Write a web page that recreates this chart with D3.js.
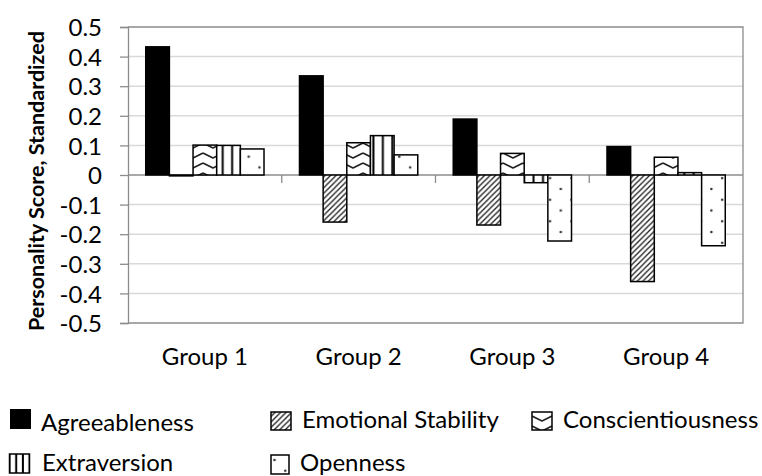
<!DOCTYPE html>
<html><head><meta charset="utf-8">
<script src="https://cdn.jsdelivr.net/npm/d3@7"></script>
<style>body{margin:0;background:#fff} svg{display:block}</style>
</head><body><svg id="c" width="762" height="476"></svg>
<script>
// ---- data ----
const categories = ["Group 1", "Group 2", "Group 3", "Group 4"];
const seriesNames = ["Agreeableness", "Emotional Stability", "Conscientiousness", "Extraversion", "Openness"];
const agreeableness      = [0.433, 0.335, 0.189, 0.096];
const emotionalStability = [-0.003, -0.159, -0.169, -0.360];
const conscientiousness  = [0.101, 0.109, 0.073, 0.060];
const extraversion       = [0.100, 0.133, -0.026, 0.008];
const openness           = [0.088, 0.068, -0.223, -0.239];
const yTickValues = [0.5, 0.4, 0.3, 0.2, 0.1, 0, -0.1, -0.2, -0.3, -0.4, -0.5];
const yTickLabels = ["0.5", "0.4", "0.3", "0.2", "0.1", "0", "-0.1", "-0.2", "-0.3", "-0.4", "-0.5"];
const yTitle = "Personality Score, Standardized";

const seriesValues = [agreeableness, emotionalStability, conscientiousness, extraversion, openness];
const patternIds = ["solid", "pEmo", "pCon", "pExt", "pOpen"];

// ---- layout ----
const svg = d3.select("#c");
const FONT = "Lato, 'Open Sans', sans-serif";
const plotL = 128, plotR = 743, plotT = 27, plotB = 323;

const x0 = d3.scaleBand().domain(categories).range([plotL, plotR]).paddingInner(0).paddingOuter(0);
const x1 = d3.scaleBand().domain(seriesNames).range([0, x0.bandwidth()]).paddingInner(0).paddingOuter(0.75);
const y = d3.scaleLinear().domain([-0.5, 0.5]).range([plotB, plotT]);

// ---- patterns ----
const defs = svg.append("defs");
function makePatterns(suffix, o) {
  let p = defs.append("pattern").attr("id", "pEmo" + suffix).attr("patternUnits", "userSpaceOnUse")
    .attr("width", 5.5).attr("height", 5.5);
  p.append("rect").attr("width", 5.5).attr("height", 5.5).attr("fill", "#fff");
  p.append("path").attr("d", "M0,5.5 L5.5,0 M-1,1 L1,-1 M4.5,6.5 L6.5,4.5")
    .attr("stroke", "#222").attr("stroke-width", 1.3);

  p = defs.append("pattern").attr("id", "pCon" + suffix).attr("patternUnits", "userSpaceOnUse")
    .attr("width", o.conW).attr("height", 10).attr("patternTransform", `translate(${o.conTx},${o.conTy})`);
  p.append("rect").attr("width", o.conW).attr("height", 10).attr("fill", "#fff");
  p.append("path").attr("d", `M0,3 L${o.conW / 2},8 L${o.conW},3`)
    .attr("fill", "none").attr("stroke", "#222").attr("stroke-width", 1.6).attr("stroke-linejoin", "round");

  p = defs.append("pattern").attr("id", "pExt" + suffix).attr("patternUnits", "userSpaceOnUse")
    .attr("width", o.extP).attr("height", 10);
  p.append("rect").attr("width", o.extP).attr("height", 10).attr("fill", "#fff");
  p.append("line").attr("x1", o.extOff).attr("x2", o.extOff).attr("y1", 0).attr("y2", 10)
    .attr("stroke", "#000").attr("stroke-width", 2);

  p = defs.append("pattern").attr("id", "pOpen" + suffix).attr("patternUnits", "userSpaceOnUse")
    .attr("width", 21.52).attr("height", 21.54).attr("patternTransform", `translate(${o.openTx},${o.openTy})`);
  p.append("rect").attr("width", 21.52).attr("height", 21.54).attr("fill", "#fff");
  p.append("circle").attr("cx", 11.98).attr("cy", 5.92).attr("r", 1.3).attr("fill", "#333");
  p.append("circle").attr("cx", 1.22).attr("cy", 16.69).attr("r", 1.3).attr("fill", "#333");
}
makePatterns("", { conW: 20, conTx: 3, conTy: 0, extP: 9.42, extOff: 6.05, openTx: 0, openTy: 0 });
makePatterns("L", { conW: 20, conTx: 532, conTy: 413, extP: 6.7, extOff: 2.8, openTx: 4.28, openTy: 1.74 });

function fillFor(i, suffix) {
  return i === 0 ? "#000" : `url(#${patternIds[i]}${suffix})`;
}

// ---- gridlines ----
svg.append("g").selectAll("line").data(yTickValues.filter(v => v !== 0 && v !== 0.5 && v !== -0.5))
  .join("line")
  .attr("x1", plotL).attr("x2", plotR)
  .attr("y1", d => y(d)).attr("y2", d => y(d))
  .attr("stroke", "#d9d9d9").attr("stroke-width", 1.5);

svg.append("path")
  .attr("d", `M${plotL},${y(0.5)} H${plotR} V${y(-0.5)} H${plotL}`)
  .attr("fill", "none").attr("stroke", "#8c8c8c").attr("stroke-width", 1.3);

// ---- y axis ----
const yAxis = d3.axisLeft(y).tickValues(yTickValues)
  .tickFormat((d, i) => yTickLabels[i]).tickSize(8).tickPadding(18);
const gy = svg.append("g").attr("transform", `translate(${plotL},0)`).call(yAxis);
gy.select(".domain").attr("stroke", "#8c8c8c").attr("stroke-width", 1.3);
gy.selectAll(".tick line").attr("stroke", "#8c8c8c").attr("stroke-width", 1.3);
gy.selectAll(".tick text").attr("font-family", FONT).attr("font-size", 24).attr("fill", "#000")
  .attr("dy", "0.36em");

// ---- x axis at zero ----
const gx = svg.append("g");
gx.append("line").attr("x1", plotL).attr("x2", plotR).attr("y1", y(0)).attr("y2", y(0))
  .attr("stroke", "#8c8c8c").attr("stroke-width", 1.3);
const boundaries = categories.map(c => x0(c)).concat([x0(categories[categories.length - 1]) + x0.bandwidth()]);
gx.selectAll("line.t").data(boundaries.slice(1, -1)).join("line").attr("class", "t")
  .attr("x1", d => d).attr("x2", d => d).attr("y1", y(0)).attr("y2", y(0) + 8)
  .attr("stroke", "#8c8c8c").attr("stroke-width", 1.3);

svg.append("g").selectAll("text").data(categories).join("text")
  .attr("x", d => x0(d) + x0.bandwidth() / 2).attr("y", 365)
  .attr("text-anchor", "middle").attr("font-family", FONT).attr("font-size", 24)
  .text(d => d);

// ---- bars ----
const barData = [];
categories.forEach((c, ci) => {
  seriesNames.forEach((s, si) => barData.push({ c, s, si, v: seriesValues[si][ci] }));
});
svg.append("g").selectAll("rect").data(barData).join("rect")
  .attr("x", d => x0(d.c) + x1(d.s))
  .attr("width", x1.bandwidth())
  .attr("y", d => y(Math.max(0, d.v)))
  .attr("height", d => Math.abs(y(d.v) - y(0)))
  .attr("fill", d => fillFor(d.si, ""))
  .attr("stroke", "#000").attr("stroke-width", 1.5);

// ---- y title ----
svg.append("text").attr("transform", "translate(44,181) rotate(-90)")
  .attr("text-anchor", "middle").attr("font-family", FONT).attr("font-weight", "bold")
  .attr("font-size", 21.5).text(yTitle);

// ---- legend ----
const legendLayout = [
  { box: [10, 409, 21, 20], tx: 41, ty: 430.5 },
  { box: [271, 412, 20, 18], tx: 302, ty: 428 },
  { box: [532, 412, 20, 18], tx: 563, ty: 428 },
  { box: [9.5, 454, 20, 19], tx: 42, ty: 471 },
  { box: [271, 455, 18, 19], tx: 300, ty: 471 }
];
const lg = svg.append("g");
seriesNames.forEach((s, i) => {
  const L = legendLayout[i];
  lg.append("rect").attr("x", L.box[0]).attr("y", L.box[1]).attr("width", L.box[2]).attr("height", L.box[3])
    .attr("fill", fillFor(i, "L")).attr("stroke", i === 0 ? "none" : "#000").attr("stroke-width", 1.5);
  lg.append("text").attr("x", L.tx).attr("y", L.ty).attr("font-family", FONT).attr("font-size", 24).text(s);
});
</script></body></html>
